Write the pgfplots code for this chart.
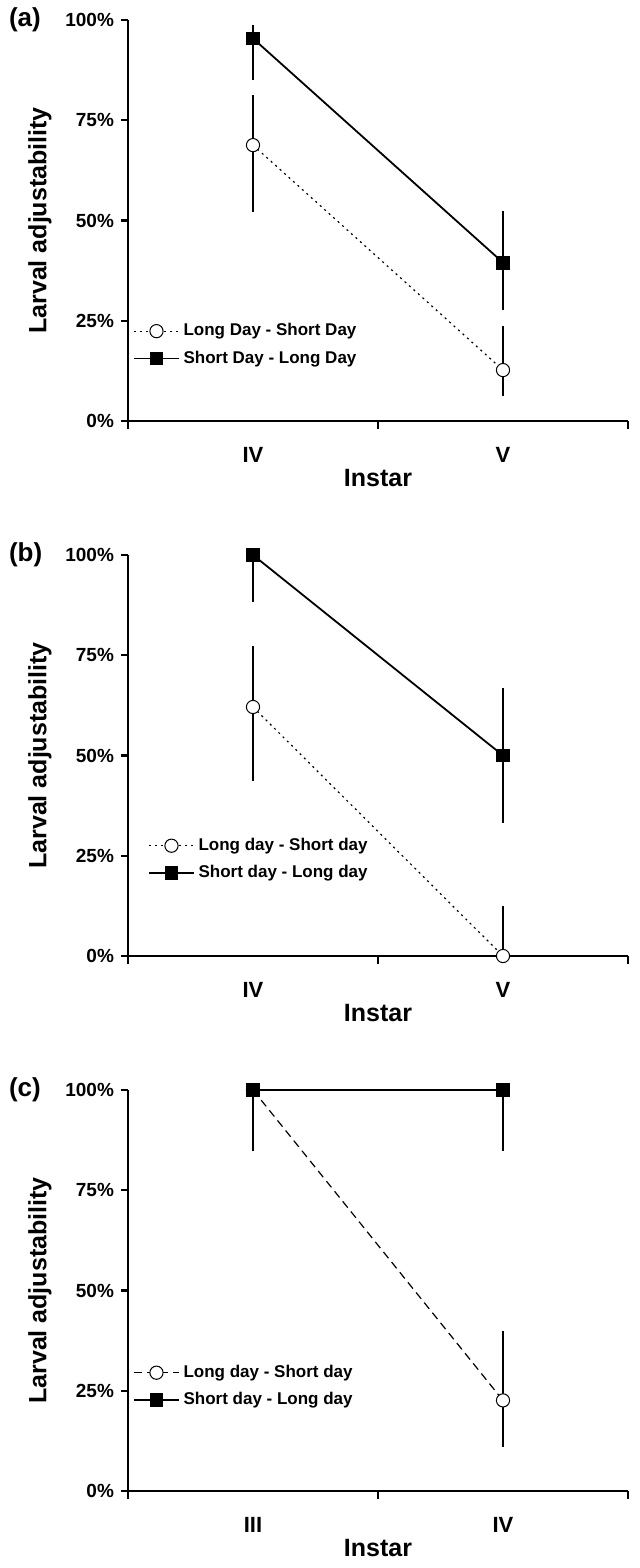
\documentclass[border=0pt]{standalone}
\usepackage{fontspec}
\setmainfont{Liberation Sans}
\usepackage{pgfplots}
\pgfplotsset{compat=1.18}

\pgfplotsset{
  panel/.style={
    scale only axis, width=250pt, height=200.5pt,
    xmin=0, xmax=2, ymin=0, ymax=100,
    axis lines*=left,
    axis line style={line width=1.1pt},
    tick style={line width=1.1pt, black},
    tick align=outside,
    xtick={0.5,1.5},
    minor xtick={0,1,2},
    major x tick style={draw=none},
    minor tick length=4pt, major tick length=3.5pt,
    ytick={0,25,50,75,100},
    yticklabels={0\%,25\%,50\%,75\%,100\%},
    clip=false,
    tick label style={font=\bfseries\fontsize{9.5}{10}\selectfont},
    xticklabel style={font=\bfseries\fontsize{11}{12}\selectfont, yshift=-6pt},
    label style={font=\bfseries\fontsize{12.5}{14}\selectfont},
    ylabel={Larval adjustability}, xlabel={Instar},
    ylabel style={at={(axis description cs:-0.176,0.5)}, anchor=center, rotate=0},
    xlabel style={at={(axis description cs:0.5,-0.142)}, anchor=center},
    legend style={draw=none, fill=none, inner sep=0pt,
      font=\bfseries\fontsize{8.5}{10}\selectfont, row sep=2pt,
      cells={anchor=west}},
    legend image code/.code={
      \draw[mark repeat=2,mark phase=2] plot coordinates {(0cm,0cm) (0.39cm,0cm) (0.78cm,0cm)};},
  },
  ebars/.style={
    error bars/y dir=both, error bars/y explicit, error bars/error mark=none,
    error bars/error bar style={solid, line width=0.8pt}},
  circ/.style={black, line width=0.6pt, mark=*, mark size=3.3pt,
    mark options={solid, fill=white, line width=0.5pt}, ebars},
  sq/.style={black, line width=0.9pt, mark=square*, mark size=3pt,
    mark options={solid}, ebars},
}

\begin{document}
\begin{tikzpicture}
\useasboundingbox (0,0) rectangle (320pt,-784pt);

% (a)
\begin{axis}[panel, at={(64pt,-10pt)}, anchor=north west,
  xticklabels={IV,V},
  legend style={at={(axis description cs:0.01,0.19)}, anchor=west}]
\addplot[circ, dash pattern=on 1pt off 2pt] coordinates {
  (0.5,68.8) += (0,12.6) -= (0,16.6)
  (1.5,12.7) += (0,10.9) -= (0,6.5)
};
\addlegendentry{Long Day - Short Day}
\addplot[sq] coordinates {
  (0.5,95.4) += (0,3.4) -= (0,10.3)
  (1.5,39.5) += (0,12.9) -= (0,11.7)
};
\addlegendentry{Short Day - Long Day}
\end{axis}
\node[anchor=west, font=\bfseries\fontsize{13}{14}\selectfont] at (1pt,-10pt) {(a)};

% (b)
\begin{axis}[panel, at={(64pt,-277.5pt)}, anchor=north west,
  xticklabels={IV,V},
  legend style={at={(axis description cs:0.04,0.241)}, anchor=west}]
\addplot[circ, dash pattern=on 1pt off 2pt] coordinates {
  (0.5,62.1) += (0,15.2) -= (0,18.4)
  (1.5,0) += (0,12.4) -= (0,0)
};
\addlegendentry{Long day - Short day}
\addplot[sq] coordinates {
  (0.5,100) += (0,0) -= (0,11.8)
  (1.5,50) += (0,16.8) -= (0,16.8)
};
\addlegendentry{Short day - Long day}
\end{axis}
\node[anchor=west, font=\bfseries\fontsize{13}{14}\selectfont] at (1pt,-277.5pt) {(b)};

% (c)
\begin{axis}[panel, at={(64pt,-545pt)}, anchor=north west,
  xticklabels={III,IV},
  legend style={at={(axis description cs:0.01,0.261)}, anchor=west}]
\addplot[circ, dash pattern=on 4pt off 2.5pt] coordinates {
  (0.5,100) += (0,0) -= (0,0)
  (1.5,22.6) += (0,17.3) -= (0,11.5)
};
\addlegendentry{Long day - Short day}
\addplot[sq] coordinates {
  (0.5,100) += (0,0) -= (0,15.1)
  (1.5,100) += (0,0) -= (0,15.1)
};
\addlegendentry{Short day - Long day}
\end{axis}
\node[anchor=west, font=\bfseries\fontsize{13}{14}\selectfont] at (1pt,-545pt) {(c)};
\end{tikzpicture}
\end{document}
